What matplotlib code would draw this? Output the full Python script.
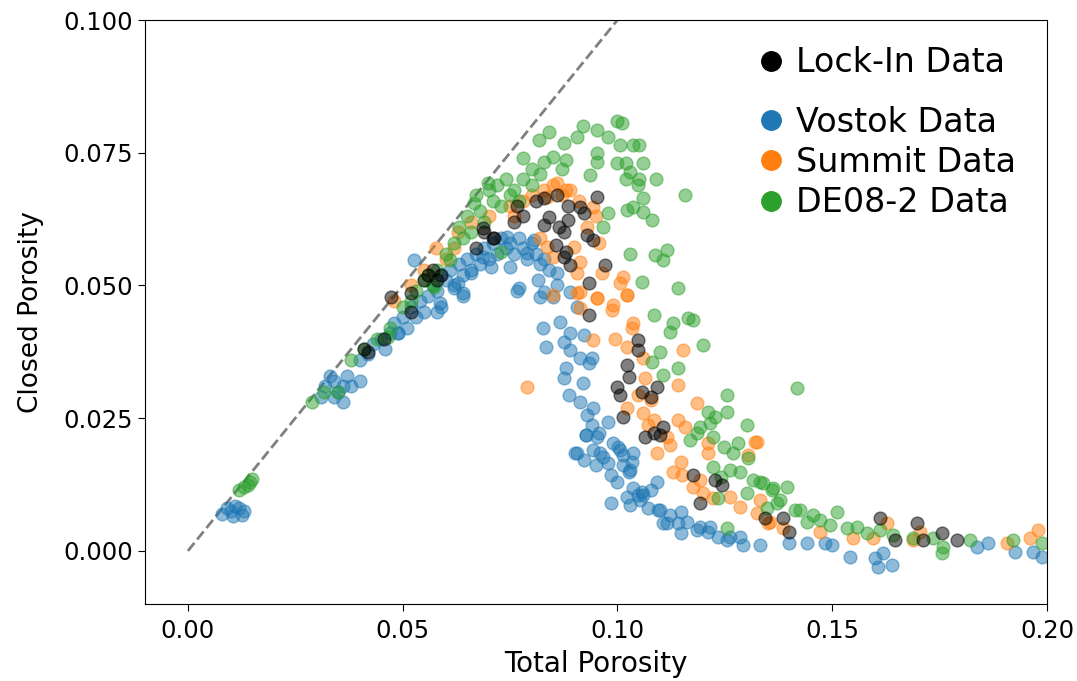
import matplotlib
matplotlib.use("Agg")
import matplotlib.pyplot as plt
from matplotlib.lines import Line2D

# values (total porosity, closed porosity)
vostok_x = [0.008, 0.009, 0.010, 0.011, 0.012, 0.013, 0.0105, 0.0125,
            0.031, 0.032, 0.033, 0.034, 0.035, 0.036, 0.037, 0.038, 0.040, 0.034, 0.036,
            0.040, 0.042, 0.043, 0.045, 0.046, 0.047, 0.048, 0.049, 0.050, 0.051,
            0.052, 0.053, 0.054, 0.055, 0.0526, 0.056, 0.057, 0.058, 0.059, 0.060,
            0.061, 0.062, 0.063, 0.064, 0.065, 0.066, 0.067, 0.068, 0.069, 0.070,
            0.071, 0.072, 0.073, 0.074, 0.075, 0.076, 0.077, 0.078, 0.079, 0.080,
            0.081, 0.082, 0.083, 0.084, 0.059, 0.058, 0.062, 0.064, 0.077, 0.049,
            0.0814, 0.086, 0.0828, 0.085, 0.089, 0.0907, 0.086,
            0.0658, 0.0628, 0.064, 0.0588, 0.0767, 0.082, 0.0751, 0.0705, 0.0688,
            0.079, 0.0805, 0.0744,
            0.0826, 0.0867, 0.0833, 0.089, 0.0921, 0.0875, 0.0890, 0.0914, 0.094,
            0.0933, 0.088, 0.0875, 0.092, 0.0887, 0.0914, 0.0944, 0.093, 0.0979,
            0.094, 0.0956, 0.0926, 0.0902, 0.0944, 0.0967, 0.099, 0.1002, 0.1037,
            0.1014, 0.1035, 0.0977, 0.1026, 0.0984, 0.100, 0.1037, 0.106, 0.1093,
            0.0984, 0.1023, 0.1053, 0.107, 0.110, 0.1123, 0.1147, 0.1116, 0.1163,
            0.1193, 0.1147, 0.121, 0.1233, 0.1263, 0.1293, 0.1333, 0.140,
            0.0907, 0.0926, 0.0953, 0.0921, 0.0949, 0.1007, 0.103, 0.1047, 0.103,
            0.1095, 0.1107, 0.114, 0.1186, 0.1216, 0.1256, 0.1286, 0.096, 0.1014,
            0.1058, 0.1077,
            0.1442, 0.1484, 0.150, 0.1542, 0.160, 0.1619, 0.1607, 0.164,
            0.1837, 0.1863, 0.1926, 0.1967, 0.1988]
vostok_y = [0.007, 0.008, 0.0075, 0.0085, 0.008, 0.0075, 0.0065, 0.0068,
            0.029, 0.031, 0.033, 0.032, 0.030, 0.031, 0.033, 0.031, 0.032, 0.029, 0.028,
            0.036, 0.037, 0.039, 0.040, 0.038, 0.041, 0.043, 0.041, 0.044, 0.042,
            0.046, 0.044, 0.047, 0.045, 0.0548, 0.048, 0.050, 0.049, 0.052, 0.051,
            0.053, 0.050, 0.054, 0.052, 0.055, 0.053, 0.056, 0.054, 0.057, 0.055,
            0.058, 0.056, 0.059, 0.057, 0.058, 0.056, 0.059, 0.057, 0.055, 0.058,
            0.056, 0.054, 0.055, 0.053, 0.046, 0.045, 0.0495, 0.048, 0.0495, 0.041,
            0.051, 0.0524, 0.0488, 0.0478, 0.0488, 0.046, 0.050,
            0.0524, 0.0505, 0.0486, 0.0467, 0.049, 0.0478, 0.0535, 0.0535, 0.0554,
            0.0561, 0.0586, 0.0591,
            0.042, 0.0431, 0.0384, 0.041, 0.0407, 0.0394, 0.0379, 0.0364, 0.0364,
            0.0354, 0.0345, 0.0326, 0.0316, 0.0294, 0.028, 0.0269, 0.0256, 0.0243,
            0.0237, 0.0222, 0.0218, 0.0185, 0.019, 0.0177, 0.0203, 0.0196, 0.0185,
            0.0181, 0.0168, 0.0166, 0.0149, 0.0143, 0.013, 0.0119, 0.0105, 0.013,
            0.009, 0.0102, 0.0096, 0.0081, 0.0077, 0.0068, 0.0073, 0.0053, 0.0055,
            0.0045, 0.0034, 0.0036, 0.0026, 0.0026, 0.0011, 0.0011, 0.0015,
            0.0185, 0.0218, 0.0215, 0.0171, 0.0162, 0.019, 0.0153, 0.0105, 0.0087,
            0.0077, 0.0053, 0.0053, 0.004, 0.0045, 0.0021, 0.0026, 0.0185, 0.0162,
            0.0111, 0.0115,
            0.0015, 0.0015, 0.0011, -0.0011, -0.0013, -0.0004, -0.003, -0.0026,
            0.0008, 0.0015, -0.0002, -0.0002, -0.0011]

summit_x = [0.048, 0.052, 0.055, 0.0577, 0.060, 0.062, 0.0628, 0.066, 0.070,
            0.075, 0.076, 0.078, 0.080, 0.083, 0.085, 0.087, 0.089, 0.091,
            0.0837, 0.086, 0.088, 0.0944, 0.095, 0.093, 0.0956, 0.082, 0.0837,
            0.085, 0.0898, 0.0914, 0.0907, 0.0965, 0.1014, 0.1007, 0.1023, 0.0953,
            0.0914, 0.085, 0.099, 0.0907, 0.0953, 0.1023, 0.0914, 0.0988, 0.1037,
            0.1035, 0.0944, 0.0995, 0.1023, 0.1153, 0.106, 0.079, 0.1065, 0.114,
            0.1049, 0.1077, 0.1186, 0.1023, 0.106, 0.1084, 0.114, 0.1158, 0.107,
            0.1116, 0.1123, 0.1093, 0.121, 0.1212, 0.1326, 0.1147, 0.113, 0.1151,
            0.1193, 0.1177, 0.120, 0.1223, 0.1263, 0.1286, 0.1333, 0.1326, 0.1356,
            0.1386, 0.132, 0.1305, 0.1351, 0.1472, 0.1549, 0.1595, 0.1628,
            0.1688, 0.1705, 0.1907, 0.196, 0.1979]
summit_y = [0.047, 0.050, 0.053, 0.057, 0.055, 0.057, 0.060, 0.062, 0.063,
            0.065, 0.063, 0.066, 0.067, 0.068, 0.069, 0.067, 0.068, 0.066,
            0.0667, 0.0693, 0.0680, 0.0648, 0.063, 0.061, 0.058, 0.059, 0.0573,
            0.0554, 0.0573, 0.0544, 0.0524, 0.0524, 0.0516, 0.0505, 0.0482, 0.0476,
            0.0488, 0.0482, 0.0463, 0.0486, 0.0476, 0.0482, 0.0457, 0.0454, 0.0429,
            0.042, 0.0397, 0.040, 0.0384, 0.0379, 0.0364, 0.0309, 0.0326, 0.0313,
            0.0294, 0.0284, 0.0279, 0.0269, 0.026, 0.0247, 0.0247, 0.0234, 0.0237,
            0.0215, 0.020, 0.0185, 0.0203, 0.0185, 0.0205, 0.0168, 0.0149, 0.0143,
            0.0134, 0.012, 0.0109, 0.010, 0.0102, 0.0083, 0.0096, 0.0072, 0.0055,
            0.0043, 0.0205, 0.018, 0.0053, 0.0036, 0.0024, 0.0024, 0.0053,
            0.0021, 0.0036, 0.0015, 0.0024, 0.004]

de08_x = [0.012, 0.013, 0.014, 0.015, 0.0145, 0.029, 0.0316, 0.035,
          0.038, 0.041, 0.044, 0.047, 0.0465, 0.050, 0.052, 0.053, 0.055, 0.056,
          0.057, 0.0572, 0.058, 0.060, 0.061, 0.062, 0.063, 0.064, 0.066, 0.0665,
          0.065, 0.067, 0.068, 0.069, 0.0698, 0.070, 0.071, 0.072, 0.073, 0.074,
          0.075, 0.076, 0.077, 0.078, 0.080, 0.082, 0.0728, 0.078, 0.080,
          0.0817, 0.084, 0.0875, 0.0907, 0.092, 0.0953, 0.0977, 0.100, 0.101,
          0.1007, 0.1037, 0.105, 0.0953, 0.0953, 0.085, 0.088, 0.087, 0.0828,
          0.0937, 0.100, 0.102, 0.103, 0.106, 0.102, 0.1047, 0.105, 0.109,
          0.1158, 0.106, 0.1023, 0.1037, 0.106, 0.108, 0.0977, 0.0967, 0.103,
          0.1088, 0.1105, 0.1116, 0.1058, 0.114, 0.1084, 0.113, 0.1123, 0.1165,
          0.1177, 0.120, 0.110, 0.1081, 0.114, 0.1107, 0.1419, 0.1256, 0.121,
          0.1256, 0.1228, 0.1216, 0.1193, 0.1302, 0.1186, 0.117, 0.1223, 0.1247,
          0.1281, 0.127, 0.1305, 0.1223, 0.1263, 0.1286, 0.124, 0.1316, 0.134,
          0.1363, 0.1395, 0.1302, 0.1233, 0.1349, 0.1372, 0.1414, 0.1256,
          0.1333, 0.136, 0.1379, 0.1426, 0.1456, 0.1442, 0.1472, 0.1512, 0.1495,
          0.1535, 0.1558, 0.1581, 0.1612, 0.1642, 0.1688, 0.1735, 0.1758,
          0.1756, 0.182, 0.192, 0.1988]
de08_y = [0.0115, 0.012, 0.0125, 0.0135, 0.013, 0.028, 0.030, 0.030,
          0.036, 0.038, 0.040, 0.042, 0.0403, 0.046, 0.047, 0.049, 0.051, 0.052,
          0.050, 0.0497, 0.053, 0.056, 0.0548, 0.058, 0.061, 0.059, 0.060, 0.0655,
          0.063, 0.067, 0.064, 0.062, 0.0693, 0.068, 0.066, 0.069, 0.065, 0.070,
          0.067, 0.068, 0.066, 0.070, 0.069, 0.071, 0.0563, 0.074, 0.072,
          0.0774, 0.0789, 0.0768, 0.078, 0.080, 0.0793, 0.078, 0.081, 0.0806,
          0.0765, 0.0765, 0.0765, 0.075, 0.0733, 0.0742, 0.0736, 0.072, 0.0733,
          0.0708, 0.073, 0.073, 0.0714, 0.073, 0.070, 0.069, 0.070, 0.070,
          0.067, 0.0665, 0.0642, 0.0648, 0.0638, 0.0623, 0.0636, 0.061, 0.056,
          0.0557, 0.0548, 0.0567, 0.0507, 0.0495, 0.0444, 0.0429, 0.0413, 0.0439,
          0.0435, 0.0388, 0.0375, 0.0356, 0.0345, 0.0331, 0.0307, 0.0294, 0.0262,
          0.0262, 0.0252, 0.0241, 0.0234, 0.0237, 0.0222, 0.0209, 0.0215, 0.0196,
          0.0203, 0.0185, 0.0175, 0.0158, 0.0153, 0.0149, 0.0139, 0.0134, 0.0128,
          0.0119, 0.012, 0.0109, 0.010, 0.0081, 0.009, 0.0077, 0.0043,
          0.013, 0.0115, 0.0096, 0.0077, 0.0068, 0.0055, 0.0058, 0.0073, 0.0049,
          0.0043, 0.0045, 0.0034, 0.004, 0.003, 0.0024, 0.0024, 0.0008,
          -0.0004, 0.0021, 0.0021, 0.0015]

lockin_x = [0.041, 0.042, 0.0456, 0.0472, 0.052, 0.052, 0.055, 0.056, 0.057,
            0.058, 0.059, 0.067, 0.069, 0.071, 0.0688, 0.0712, 0.076, 0.0767,
            0.078, 0.081, 0.0828, 0.086, 0.0884, 0.0953, 0.0914, 0.0921, 0.084,
            0.0884, 0.0828, 0.0863, 0.0875, 0.093, 0.0944, 0.0856, 0.088, 0.0875,
            0.089, 0.0972, 0.0933, 0.0933, 0.1049, 0.1049, 0.1023, 0.1026, 0.100,
            0.1007, 0.1058, 0.1077, 0.1093, 0.1014, 0.1065, 0.1084, 0.110, 0.1107,
            0.1177, 0.1193, 0.1228, 0.1244, 0.1344, 0.1386, 0.140, 0.1612, 0.1647,
            0.1698, 0.1712, 0.1756, 0.179]
lockin_y = [0.038, 0.0375, 0.040, 0.0478, 0.045, 0.0486, 0.051, 0.052, 0.053,
            0.051, 0.052, 0.057, 0.060, 0.059, 0.0608, 0.059, 0.062, 0.065,
            0.063, 0.066, 0.0665, 0.067, 0.065, 0.0667, 0.0648, 0.0636, 0.0629,
            0.0623, 0.0614, 0.061, 0.060, 0.0595, 0.0586, 0.0576, 0.0563, 0.0554,
            0.0539, 0.0539, 0.0505, 0.0444, 0.0397, 0.0379, 0.035, 0.0328, 0.0309,
            0.0294, 0.030, 0.029, 0.0309, 0.0252, 0.0215, 0.0222, 0.0218, 0.0234,
            0.0143, 0.009, 0.0134, 0.0124, 0.0062, 0.0062, 0.0036, 0.0062, 0.0021,
            0.0053, 0.0021, 0.0034, 0.0021]

fig = plt.figure(figsize=(10.77, 6.81), dpi=100)
ax = fig.add_axes([0.1346, 0.1131, 0.8375, 0.8575])

ax.plot([0, 0.1], [0, 0.1], linestyle='--', color='gray', lw=2, zorder=1)

s = 85
ax.scatter(vostok_x, vostok_y, s=s, color='C0', alpha=0.5, zorder=2)
ax.scatter(summit_x, summit_y, s=s, color='C1', alpha=0.5, zorder=2)
ax.scatter(de08_x, de08_y, s=s, color='C2', alpha=0.5, zorder=2)
ax.scatter(lockin_x, lockin_y, s=s, color='black', alpha=0.5, zorder=3)

ax.set_xlim(-0.01, 0.2)
ax.set_ylim(-0.01, 0.1)
ax.set_xticks([0.0, 0.05, 0.10, 0.15, 0.20])
ax.set_xticklabels(['0.00', '0.05', '0.10', '0.15', '0.20'])
ax.set_yticks([0.0, 0.025, 0.05, 0.075, 0.1])
ax.set_yticklabels(['0.000', '0.025', '0.050', '0.075', '0.100'])
ax.tick_params(labelsize=17.5, length=5)
ax.tick_params(axis='x', pad=6)
ax.set_xlabel('Total Porosity', fontsize=20, labelpad=5)
ax.set_ylabel('Closed Porosity', fontsize=19, labelpad=14)

def handle(c):
    return Line2D([], [], marker='o', color=c, ls='', markersize=14)

leg1 = ax.legend([handle('black')], ['Lock-In Data'], loc='upper left',
                 bbox_to_anchor=(0.662, 0.978), frameon=False, fontsize=24,
                 handletextpad=0.28, handlelength=0.95, borderaxespad=0)
ax.add_artist(leg1)
ax.legend([handle('C0'), handle('C1'), handle('C2')],
          ['Vostok Data', 'Summit Data', 'DE08-2 Data'], loc='upper left',
          bbox_to_anchor=(0.662, 0.876), frameon=False, fontsize=24,
          handletextpad=0.28, handlelength=0.95, labelspacing=0.22,
          borderaxespad=0)

fig.savefig('out.png', dpi=100)
